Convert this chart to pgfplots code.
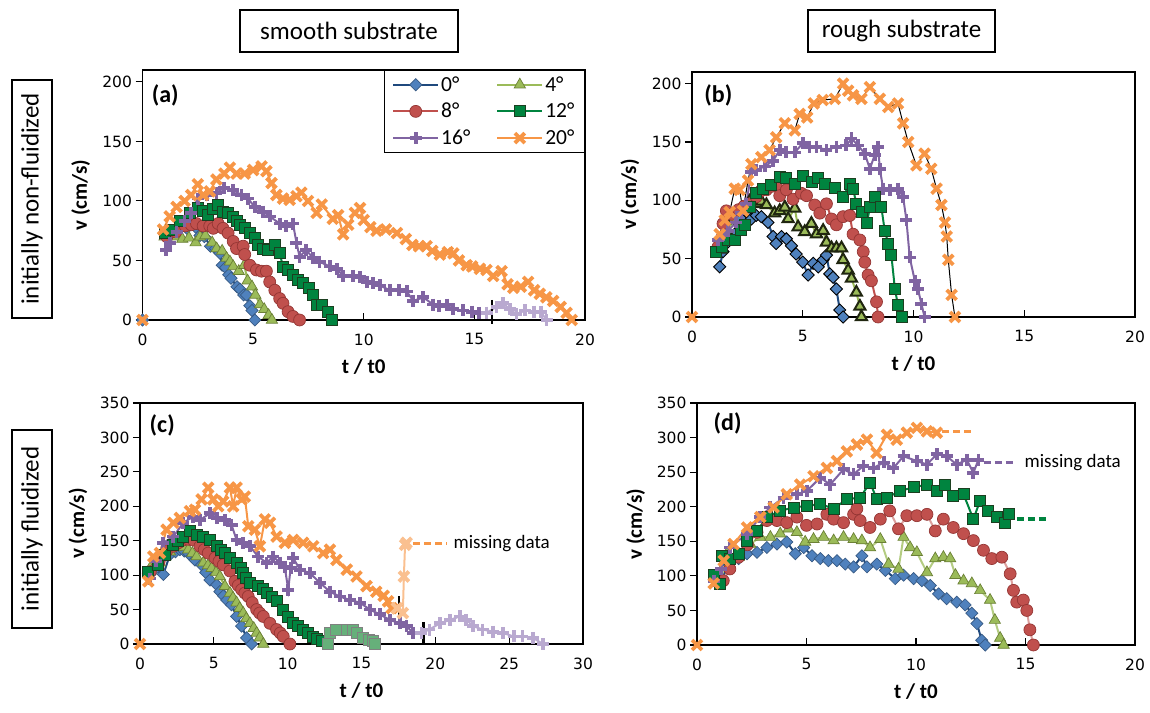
\documentclass[border=0pt]{standalone}
\usepackage{fontspec}
\setmainfont{Carlito}
\newfontfamily\tickfont{DejaVu Sans}
\usepackage{pgfplots}
\pgfplotsset{compat=1.18}

\definecolor{cBlue}{HTML}{1F497D}
\definecolor{cBlueF}{HTML}{4F81BD}
\definecolor{cOlive}{HTML}{9BBB59}
\definecolor{cOliveD}{HTML}{6B8036}
\definecolor{cRed}{HTML}{C0504D}
\definecolor{cRedD}{HTML}{943634}
\definecolor{cGreen}{HTML}{00843F}
\definecolor{cGreenD}{HTML}{1C3F20}
\definecolor{cPurple}{HTML}{8064A2}
\definecolor{cOrange}{HTML}{F79646}
\definecolor{cPurpleL}{HTML}{B9A9D0}
\definecolor{cOrangeL}{HTML}{FAC090}
\definecolor{cGreenL}{HTML}{66B07A}

\pgfplotsset{
 panel/.style={scale only axis, clip=false, axis line style={line width=1.3pt},
   tick pos=left, tick align=outside, major tick length=7pt,
   every tick/.style={black, line width=1.1pt},
   xtick style={yshift=7pt},
   ticklabel style={font=\tickfont\fontsize{15.5}{17}\selectfont},
   xticklabel style={yshift=-3pt},
   /pgf/number format/assume math mode=true,
   xlabel={t / t0}, ylabel={v (cm/s)},
   label style={font=\bfseries\fontsize{21}{23}\selectfont},
   ylabel style={at={(axis description cs:-0.14,0.5)}, anchor=center},
   xlabel style={at={(axis description cs:0.5,0)}, anchor=center, yshift=-47pt},
   xmin=0, ymin=0,
 },
 s0/.style={color=cBlue, line width=2pt, mark=square*, mark size=4.3pt, mark options={solid, rotate=45, fill=cBlueF, draw=cBlueF!70!black, line width=0.7pt}},
 s4/.style={color=cOlive, line width=2pt, mark=triangle*, mark size=6.5pt, mark options={solid, fill=cOlive, draw=cOliveD, line width=0.7pt}},
 s8/.style={color=cRed, line width=2pt, mark=*, mark size=6pt, mark options={solid, fill=cRed, draw=cRedD, line width=0.7pt}},
 s12/.style={color=cGreen, line width=2pt, mark=square*, mark size=5.5pt, mark options={solid, fill=cGreen, draw=cGreenD, line width=0.8pt}},
 s16/.style={color=cPurple, line width=2pt, mark=+, mark size=6pt, mark options={solid, draw=cPurple, line width=3.8pt}},
 s20/.style={color=cOrange, line width=2pt, mark=x, mark size=7pt, mark options={solid, draw=cOrange, line width=3.8pt}},
 s16L/.style={color=cPurpleL, line width=2pt, mark=+, mark size=6pt, mark options={solid, draw=cPurpleL, line width=3.8pt}},
 s20L/.style={color=cOrangeL, line width=2pt, mark=x, mark size=7pt, mark options={solid, draw=cOrangeL, line width=3.8pt}},
 s12L/.style={color=cGreenL, line width=2pt, mark=square*, mark size=5.5pt, mark options={solid, fill=cGreenL, draw=gray, line width=0.8pt}},
 divider/.style={black, line width=2.6pt, mark=none, forget plot},
 missing/.style={line width=3.5pt, mark=none, dash pattern=on 7pt off 4pt, forget plot},
}

\begin{document}
\begin{tikzpicture}
\path (0pt,0pt) rectangle (1150pt,712pt);

% headers
\node[draw, line width=1.3pt, minimum width=218pt, minimum height=42pt, font=\fontsize{25}{29}\selectfont] at (349pt,681pt) {smooth substrate};
\node[draw, line width=1.3pt, minimum width=187pt, minimum height=42pt, font=\fontsize{25}{29}\selectfont] at (901.5pt,681pt) {rough substrate};
\node[draw, line width=1.3pt, rotate=90, minimum width=238pt, minimum height=40pt, font=\fontsize{25}{29}\selectfont] at (32pt,513pt) {initially non-fluidized};
\node[draw, line width=1.3pt, rotate=90, minimum width=198pt, minimum height=40pt, font=\fontsize{25}{29}\selectfont] at (32pt,183pt) {initially fluidized};

% ---------------- (a)
\begin{axis}[panel, at={(142.5pt,392pt)}, anchor=south west, width=442.5pt, height=250pt,
  xmax=20, ymax=210, xtick={0,5,10,15,20}, ytick={0,50,100,150,200},
  legend columns=2,
  legend style={at={(1,1)}, anchor=north east, draw=black, line width=1.2pt,
    font=\fontsize{21.5}{24}\selectfont, inner xsep=8pt, inner ysep=4pt,
    row sep=6.5pt,
    /tikz/every even column/.append style={column sep=24pt}},
  legend cell align=left,
  legend image code/.code={\draw[mark repeat=2,mark phase=2,#1] plot coordinates {(0pt,0pt) (22.5pt,0pt) (45pt,0pt)};},
]
\addplot[s0] coordinates {(1.0,72) (1.3,74) (1.6,75) (2.0,77) (2.4,78) (2.6,71) (2.8,70) (3.07,62) (3.3,60) (3.5,56) (3.6,46) (3.75,44) (3.9,38) (4.0,35) (4.27,28) (4.4,26) (4.57,21) (4.7,21) (4.85,12) (4.95,8) (5.08,0)};
\addplot[s4] coordinates {(1.0,70) (1.4,70) (1.8,68) (2.1,69) (2.4,65) (2.6,70) (2.84,71) (3.15,65) (3.35,60) (3.6,58) (3.8,52) (3.95,49) (4.1,45) (4.35,41) (4.6,46) (4.75,33) (4.95,28) (5.1,21) (5.31,13) (5.5,9) (5.7,4) (5.85,0)};
\addplot[s8] coordinates {(1.1,70) (1.5,74) (1.93,79) (2.2,80) (2.44,81) (2.74,79) (3.04,79) (3.2,77) (3.42,81) (3.64,77) (3.87,73) (4.1,66) (4.25,60) (4.55,62) (4.62,55) (4.85,46) (5.15,42) (5.38,41) (5.6,41) (5.75,32) (5.98,25) (6.2,18) (6.35,14) (6.58,7) (6.8,3) (7.1,0)};
\addplot[s12] coordinates {(1.0,73) (1.3,76) (1.7,83) (2.14,90) (2.5,94) (2.75,92) (2.97,88) (3.2,93) (3.42,97) (3.64,91) (3.87,90) (4.1,87) (4.25,83) (4.4,80) (4.62,77) (4.85,73) (5.07,69) (5.22,63) (5.45,60) (5.68,59) (5.98,63) (6.2,56) (6.35,45) (6.58,42) (6.8,38) (7.03,34) (7.26,31) (7.5,27) (7.7,21) (7.86,13) (8.1,13) (8.4,7) (8.54,0)};
\addplot[s16] coordinates {(1.08,59) (1.23,65) (1.54,74) (1.9,83) (2.2,90) (2.5,102) (2.9,105) (3.34,107) (3.7,111) (4.1,109) (4.47,105) (4.77,102) (5.07,95) (5.45,91) (5.75,87) (6.2,81) (6.5,79) (6.8,81) (6.96,65) (7.1,53) (7.4,59) (7.7,52) (8.0,49) (8.46,45) (8.78,43) (9.07,37) (9.5,37) (9.83,36) (10.13,32) (10.4,31) (10.73,29) (11.18,25) (11.6,25) (11.94,24) (12.24,16) (12.69,19) (13.14,13) (13.4,12) (13.75,13) (14.04,9) (14.5,8) (14.9,7) (15.2,6) (15.55,6)};
\addplot[s20] coordinates {(0.93,76) (1.23,87) (1.54,95) (1.9,100) (2.2,105) (2.5,114) (2.74,105) (3.04,108) (3.34,118) (3.7,123) (3.95,128) (4.25,123) (4.62,123) (5.0,126) (5.38,129) (5.6,125) (5.83,115) (6.05,105) (6.35,102) (6.65,101) (6.96,104) (7.18,107) (7.48,100) (7.87,90) (8.1,97) (8.6,85) (8.84,88) (9.07,72) (9.3,80) (9.6,90) (9.83,94) (10.0,84) (10.3,78) (10.58,75) (11.0,76) (11.5,73) (11.9,68) (12.2,63) (12.5,62) (12.84,62) (13.1,58) (13.44,55) (13.8,57) (14.05,56) (14.3,50) (14.65,46) (14.9,45) (15.25,43) (15.55,42) (15.85,37) (16.23,41) (16.5,30) (16.76,27) (17.1,28) (17.43,32) (17.7,25) (17.96,22) (18.25,19) (18.56,16) (18.9,11) (19.17,6) (19.4,0)};
\addplot[s16L, forget plot] coordinates {(15.55,6) (16.0,11) (16.3,14) (16.6,9) (16.9,5) (17.3,8) (17.7,7) (18.0,7) (18.26,0)};
\addplot[divider] coordinates {(15.8,17) (15.8,-3)};
\addplot[s0, only marks, forget plot] coordinates {(0,0)};
\addplot[s20, only marks, forget plot] coordinates {(0,0)};
\legend{0°,4°,8°,12°,16°,20°}
\node[anchor=west, font=\bfseries\fontsize{24}{28}\selectfont] at (axis description cs:0.013,0.9) {(a)};
\end{axis}

% ---------------- (b)
\begin{axis}[panel, at={(692pt,395pt)}, anchor=south west, width=443pt, height=245pt,
  xmax=20, ymax=210, xtick={0,5,10,15,20}, ytick={0,50,100,150,200},
  s0/.append style={mark options={solid, rotate=45, fill=cBlueF, draw=black, line width=0.9pt}},
  s4/.append style={mark options={draw=black!70!cOliveD}},
]
\addplot[s0] coordinates {(1.25,43) (1.4,56) (1.55,63) (1.93,71) (2.23,84) (2.53,89) (2.68,84) (2.9,87) (3.13,86) (3.43,81) (3.66,69) (3.8,63) (4.04,69) (4.26,67) (4.49,61) (4.7,54) (5.0,47) (5.24,36) (5.47,46) (5.7,43) (5.92,49) (6.07,53) (6.22,37) (6.37,34) (6.52,24) (6.67,6) (6.82,0)};
\addplot[s4] coordinates {(1.3,58) (1.6,72) (1.85,83) (2.2,92) (2.6,99) (2.9,97) (3.13,99) (3.36,96) (3.73,89) (3.96,91) (4.19,94) (4.34,84) (4.64,93) (4.79,77) (5.09,73) (5.39,80) (5.62,71) (5.92,74) (6.07,64) (6.3,59) (6.52,59) (6.75,59) (6.82,49) (7.05,40) (7.2,33) (7.42,21) (7.58,9) (7.65,0)};
\addplot[s8] coordinates {(1.17,60) (1.4,80) (1.55,91) (1.8,88) (2.1,92) (2.35,95) (2.6,97) (2.9,103) (3.1,108) (3.36,109) (3.6,112) (3.8,113) (3.96,104) (4.26,109) (4.56,101) (4.94,106) (5.17,104) (5.54,96) (5.77,89) (6.07,97) (6.3,84) (6.52,79) (6.82,86) (7.12,87) (7.27,71) (7.58,66) (7.73,56) (7.8,47) (7.95,36) (8.1,31) (8.33,13) (8.4,0)};
\addplot[s12] coordinates {(1.1,56) (1.33,60) (1.63,66) (1.93,66) (2.2,75) (2.38,79) (2.6,94) (2.9,106) (3.2,110) (3.58,113) (3.96,120) (4.26,119) (4.64,114) (5.0,121) (5.4,116) (5.7,119) (6.0,114) (6.45,111) (6.82,103) (7.12,114) (7.27,110) (7.42,97) (7.65,90) (7.9,81) (8.03,94) (8.25,103) (8.55,94) (8.7,74) (8.86,63) (9.0,53) (9.16,24) (9.3,10) (9.46,0)};
\addplot[s16] coordinates {(1.17,66) (1.4,70) (1.63,74) (2.0,81) (2.23,89) (2.45,97) (2.68,124) (2.9,126) (3.28,129) (3.66,134) (3.96,143) (4.26,141) (4.64,141) (5.0,149) (5.3,146) (5.62,146) (6.07,143) (6.52,146) (6.97,147) (7.2,153) (7.5,147) (7.8,140) (8.03,127) (8.25,139) (8.4,146) (8.48,127) (8.63,110) (8.93,109) (9.3,110) (9.53,103) (9.68,83) (9.83,51) (10.06,31) (10.2,24) (10.36,11) (10.5,0)};
\addplot[s20, color=black, line width=1pt] coordinates {(1.25,71) (1.48,83) (1.7,90) (1.93,110) (2.15,109) (2.3,91) (2.53,117) (2.68,131) (3.13,137) (3.5,143) (3.8,154) (4.19,166) (4.64,160) (4.86,174) (5.2,171) (5.5,183) (5.9,186) (6.45,187) (6.82,200) (7.05,194) (7.27,190) (7.65,187) (8.03,197) (8.48,187) (8.86,180) (9.3,183) (9.53,166) (9.76,150) (10.13,130) (10.5,140) (10.8,127) (11.04,110) (11.26,96) (11.42,81) (11.5,69) (11.57,49) (11.72,19) (11.87,0)};
\addplot[s20, only marks] coordinates {(0,0)};
\node[anchor=west, font=\bfseries\fontsize{24}{28}\selectfont] at (axis description cs:0.02,0.905) {(b)};
\end{axis}

% ---------------- (c)
\begin{axis}[panel, at={(140pt,68pt)}, anchor=south west, width=443pt, height=241pt,
  xmax=30, ymax=350, xtick={0,5,...,30}, ytick={0,50,...,350},
]
\addplot[s0] coordinates {(0.56,103) (1.0,108) (1.58,101) (2.03,130) (2.4,134) (2.7,137) (3.0,135) (3.27,132) (3.5,127) (3.72,122) (4.17,115) (4.45,104) (4.74,93) (5.19,86) (5.41,76) (5.65,70) (5.87,64) (6.2,57) (6.54,40) (6.88,26) (7.22,9) (7.56,0)};
\addplot[s4] coordinates {(0.68,110) (1.35,118) (1.7,126) (2.03,134) (2.4,140) (2.7,144) (3.0,141) (3.27,137) (3.55,132) (3.83,127) (4.29,118) (4.6,114) (4.85,110) (5.15,104) (5.41,98) (5.75,84) (6.09,74) (6.3,67) (6.54,60) (6.75,52) (6.99,45) (7.2,37) (7.44,30) (7.7,23) (7.9,16) (8.1,9) (8.35,0)};
\addplot[s8] coordinates {(0.7,105) (1.3,120) (1.8,135) (2.26,142) (2.6,147) (2.93,151) (3.3,152) (3.6,151) (4.06,142) (4.35,137) (4.62,132) (5.08,125) (5.35,120) (5.64,115) (6.09,106) (6.43,91) (6.65,85) (6.88,79) (7.1,74) (7.33,69) (7.6,60) (7.9,50) (8.1,45) (8.35,40) (8.8,30) (9.25,21) (9.5,16) (9.7,11) (10.15,0)};
\addplot[s12] coordinates {(0.56,105) (1.2,115) (1.7,130) (2.26,144) (2.6,150) (2.93,156) (3.38,164) (3.83,159) (4.29,156) (4.74,151) (5.19,142) (5.5,137) (5.75,132) (6.09,125) (6.54,118) (6.8,110) (6.99,103) (7.2,96) (7.44,89) (8.0,84) (8.3,80) (8.57,74) (8.9,68) (9.25,62) (9.7,50) (10.0,40) (10.37,30) (10.7,26) (11.05,21) (11.4,16) (11.73,11) (12.0,8) (12.3,4) (12.75,0)};
\addplot[s16] coordinates {(0.7,95) (1.1,120) (1.58,147) (2.26,156) (2.93,176) (3.6,185) (4.06,180) (4.74,190) (5.19,183) (5.75,180) (6.2,173) (6.54,151) (6.99,147) (7.44,142) (8.0,127) (8.57,118) (9.02,127) (9.47,118) (9.8,112) (10.04,79) (10.2,110) (10.37,125) (10.83,108) (11.5,103) (12.18,89) (12.86,76) (13.53,69) (14.2,64) (14.9,60) (15.56,50) (16.24,43) (16.92,35) (17.6,30) (18.05,26) (18.5,16) (19.06,16)};
\addplot[s20] coordinates {(0.56,91) (0.9,127) (1.35,132) (1.8,166) (2.26,176) (2.7,183) (3.38,193) (3.72,195) (4.17,210) (4.62,227) (4.96,210) (5.3,200) (5.64,207) (6.09,227) (6.31,200) (6.54,227) (6.88,210) (7.1,214) (7.33,171) (7.78,166) (8.12,142) (8.46,181) (8.8,176) (9.25,156) (9.81,147) (10.37,151) (11.05,147) (11.73,142) (12.4,132) (12.86,137) (13.3,122) (14.0,108) (14.66,98) (15.34,84) (16.0,76) (16.5,70) (16.8,62) (17.04,52) (17.4,52)};
\addplot[s12L] coordinates {(12.75,0) (12.86,16) (13.3,21) (14.0,21) (14.4,20) (14.66,16) (15.1,9) (15.5,6) (15.8,4) (15.9,0)};
\addplot[s16L] coordinates {(19.06,16) (19.6,21) (20.3,30) (21.0,35) (21.65,40) (22.1,35) (22.56,26) (23.2,21) (23.9,18) (24.6,16) (25.3,11) (25.9,11) (26.6,9) (27.3,0)};
\addplot[s20L] coordinates {(17.4,52) (17.8,45) (17.87,98) (17.95,144) (18.05,147)};
\addplot[divider] coordinates {(17.55,69) (17.55,30)};
\addplot[divider] coordinates {(19.18,32) (19.18,-2)};
\addplot[missing, cOrange] coordinates {(18.5,146) (20.8,146)};
\node[anchor=west, font=\fontsize{19}{22}\selectfont] at (axis cs:21.0,146) {missing data};
\addplot[s20, only marks] coordinates {(0,0)};
\node[anchor=west, font=\bfseries\fontsize{24}{28}\selectfont] at (axis description cs:0.014,0.909) {(c)};
\end{axis}

% ---------------- (d)
\begin{axis}[panel, at={(697pt,67pt)}, anchor=south west, width=438pt, height=242pt,
  xmax=20, ymax=350, xtick={0,5,10,15,20}, ytick={0,50,...,350},
  s4/.append style={color=cOlive!75!white},
  s8/.append style={color=cRed!55!white},
]
\addplot[s0] coordinates {(1.06,91) (1.44,117) (1.9,125) (2.28,132) (2.74,134) (3.19,141) (3.65,146) (4.1,149) (4.49,132) (4.87,141) (5.25,129) (5.63,125) (6.0,122) (6.39,122) (6.77,117) (7.15,113) (7.53,129) (7.76,113) (8.21,117) (8.6,108) (9.05,96) (9.43,101) (9.89,96) (10.27,93) (10.65,86) (11.03,74) (11.4,67) (11.86,62) (12.24,58) (12.55,46) (12.78,31) (13.0,7) (13.16,0)};
\addplot[s4] coordinates {(1.1,95) (1.37,132) (1.9,127) (2.43,146) (2.89,156) (3.35,156) (3.8,161) (4.18,168) (4.56,163) (4.94,149) (5.32,153) (5.78,156) (6.24,151) (6.69,156) (7.15,153) (7.53,151) (7.9,141) (8.37,153) (8.75,117) (9.2,110) (9.43,156) (9.73,141) (10.04,134) (10.5,105) (10.88,125) (11.25,127) (11.56,125) (11.8,101) (12.17,93) (12.55,89) (12.93,79) (13.38,65) (13.6,36) (13.84,10) (14.0,0)};
\addplot[s8] coordinates {(1.2,93) (1.5,110) (1.9,127) (2.3,145) (2.74,163) (3.19,180) (3.65,180) (4.1,177) (4.56,185) (5.0,173) (5.48,175) (5.93,189) (6.24,182) (6.69,177) (7.15,189) (7.3,197) (7.45,180) (7.9,170) (8.37,182) (8.8,194) (9.2,168) (9.58,187) (10.04,187) (10.5,189) (10.88,165) (11.25,182) (11.7,170) (12.17,161) (12.62,151) (13.08,137) (13.46,125) (13.92,127) (14.3,103) (14.45,79) (14.6,62) (14.9,65) (15.06,50) (15.2,22) (15.36,0)};
\addplot[s12] coordinates {(0.76,101) (1.06,89) (1.14,129) (1.5,125) (1.9,132) (2.3,150) (2.74,165) (3.19,185) (3.8,194) (4.41,199) (5.02,201) (5.63,204) (6.24,197) (6.84,211) (7.45,213) (7.9,235) (8.21,211) (8.67,213) (9.28,223) (9.89,228) (10.5,232) (10.95,223) (11.33,232) (11.7,216) (12.17,218) (12.62,182) (12.93,209) (13.3,194) (13.69,185) (14.07,177) (14.22,189)};
\addplot[s16] coordinates {(0.76,93) (1.1,110) (1.52,141) (2.28,161) (2.89,185) (3.35,199) (3.95,213) (4.56,218) (5.02,223) (5.63,242) (6.08,232) (6.69,254) (7.15,247) (7.6,259) (8.06,256) (8.52,264) (8.97,256) (9.43,273) (10.04,266) (10.5,261) (10.95,276) (11.4,273) (11.86,261) (12.32,268) (12.62,249) (12.85,268)};
\addplot[s20] coordinates {(0.76,89) (1.22,122) (1.67,146) (2.28,170) (2.89,185) (3.5,199) (4.1,218) (4.71,232) (5.32,244) (5.93,256) (6.39,266) (6.84,280) (7.3,290) (7.76,297) (8.2,278) (8.67,304) (9.12,297) (9.58,307) (10.04,314) (10.5,309) (10.95,307)};
\addplot[missing, cOrange] coordinates {(11.19,309) (12.65,309)};
\addplot[missing, cPurple] coordinates {(13.1,264) (14.5,264)};
\addplot[missing, cGreen] coordinates {(14.6,182) (16.07,182)};
\node[anchor=west, font=\fontsize{19}{22}\selectfont] at (axis cs:14.8,264) {missing data};
\addplot[s20, only marks] coordinates {(0,0)};
\node[anchor=west, font=\bfseries\fontsize{24}{28}\selectfont] at (axis description cs:0.03,0.917) {(d)};
\end{axis}
\end{tikzpicture}
\end{document}
